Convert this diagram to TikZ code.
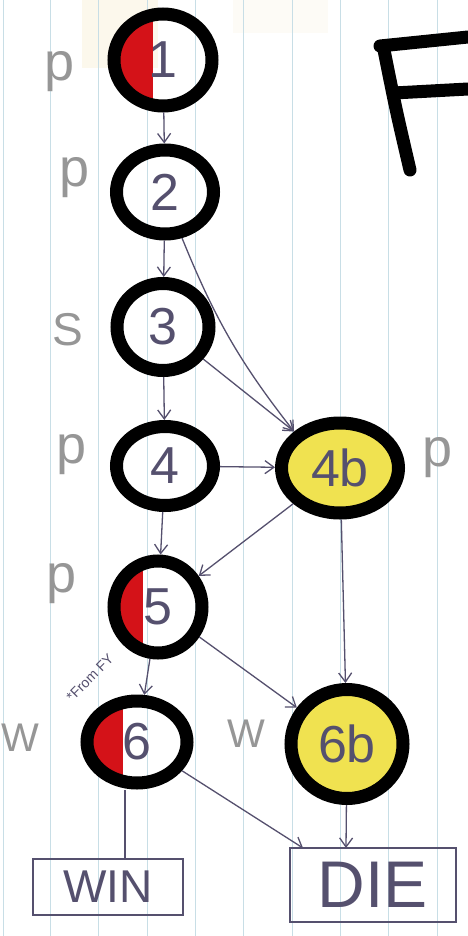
\documentclass[tikz,border=0pt]{standalone}
\usepackage{fontspec}
\setmainfont{Liberation Sans}
\usetikzlibrary{arrows.meta,shapes.geometric}
\definecolor{ink}{RGB}{85,80,110}
\definecolor{pencil}{RGB}{150,150,150}
\definecolor{rulecol}{RGB}{200,222,230}
\definecolor{markred}{RGB}{212,18,24}
\definecolor{markyel}{RGB}{240,226,80}
\definecolor{tape}{RGB}{252,248,236}
\begin{document}
\begin{tikzpicture}[x=1pt,y=-1pt,
  state/.style={ellipse, draw=black, line width=13pt, inner sep=0pt,
    font=\fontsize{52}{54}\selectfont, text=ink},
  redpart/.style={path picture={\fill[markred] (path picture bounding box.south west) rectangle ([xshift=-#1]path picture bounding box.north);}},
  yel/.style={fill=markyel},
  conn/.style={draw=ink, line width=1.3pt, -{Straight Barb[length=9pt,width=13pt]}},
  plain/.style={draw=ink, line width=1.3pt},
  side/.style={text=pencil, font=\fontsize{54}{56}\selectfont},
  endbox/.style={draw=ink, line width=2pt, inner sep=0pt, text=ink}]
\useasboundingbox (0,0) rectangle (468,936);
\fill[white] (0,0) rectangle (468,936);
\fill[tape] (82,0) rectangle (158,68);
\fill[tape!50!white] (233,0) rectangle (328,33);
\foreach \x in {3,50,98,147,195,243,292,340,388,437}
  \draw[rulecol, line width=1pt] (\x,0) -- (\x,936);
% the F
\draw[line width=13pt, line cap=round, line join=round] (380,46) -- (468,37);
\draw[line width=13pt, line cap=round] (384,50) .. controls (396,110) .. (410,170);
\draw[line width=13pt, line cap=round] (394,93) -- (468,89);
% states
\node[state, minimum width=98pt, minimum height=92pt, redpart=10pt] (n1) at (163,60) {1};
\node[state, minimum width=97pt, minimum height=84pt] (n2) at (165,192) {2};
\node[state, minimum width=92pt, minimum height=87pt] (n3) at (163,327) {3};
\node[state, minimum width=97pt, minimum height=79pt] (n4) at (165,466) {4};
\node[state, minimum width=117pt, minimum height=90pt, yel] (n4b) at (340,468) {4b};
\node[state, minimum width=88pt, minimum height=92pt, redpart=15pt] (n5) at (158,607) {5};
\node[state, minimum width=100pt, minimum height=82pt, redpart=14pt] (n6) at (137,742) {6};
\node[state, minimum width=112pt, minimum height=109pt, yel] (n6b) at (347,744) {6b};
% end boxes
\node[endbox, minimum width=150pt, minimum height=56pt, font=\fontsize{46}{48}\selectfont] (win) at (108,887) {WIN};
\node[endbox, minimum width=166pt, minimum height=74pt, font=\fontsize{66}{68}\selectfont] (die) at (373,885) {DIE};
\coordinate (dieL) at (303,848);
\coordinate (dieR) at (346,848);
\coordinate (winT) at (125,859);
\coordinate (sixB) at (125,790);
% side labels
\node[side] (l1) at (60,72) {p};
\node[side] (l2) at (75,178) {p};
\node[side, font=\fontsize{46}{48}\selectfont] (l3) at (68,330) {S};
\node[side] (l4) at (72,455) {p};
\node[side] (l4b) at (438,458) {p};
\node[side] (l5) at (62,584) {p};
\node[side, font=\fontsize{40}{42}\selectfont] (l6) at (20,738) {W};
\node[side, font=\fontsize{40}{42}\selectfont] (l6b) at (246,734) {W};
\node[text=ink, rotate=45, font=\fontsize{14}{15}\selectfont] (note) at (90,678) {*From FY};
% connectors
\draw[conn] (n1) -- (n2);
\draw[conn] (n2) -- (n3);
\draw[conn] (n2) to[bend right=8] (n4b.north west);
\draw[conn] (n3) -- (n4b);
\draw[conn] (n3) -- (n4);
\draw[conn] (n4) -- (n4b);
\draw[conn] (n4) -- (n5);
\draw[conn] (n4b) -- (n5);
\draw[conn] (n4b) -- (n6b);
\draw[conn] (n5) -- (n6);
\draw[conn] (n5) -- (n6b);
\draw[plain] (sixB) -- (winT);
\draw[conn] (n6) -- (dieL);
\draw[conn] (n6b) -- (dieR);
\end{tikzpicture}
\end{document}
